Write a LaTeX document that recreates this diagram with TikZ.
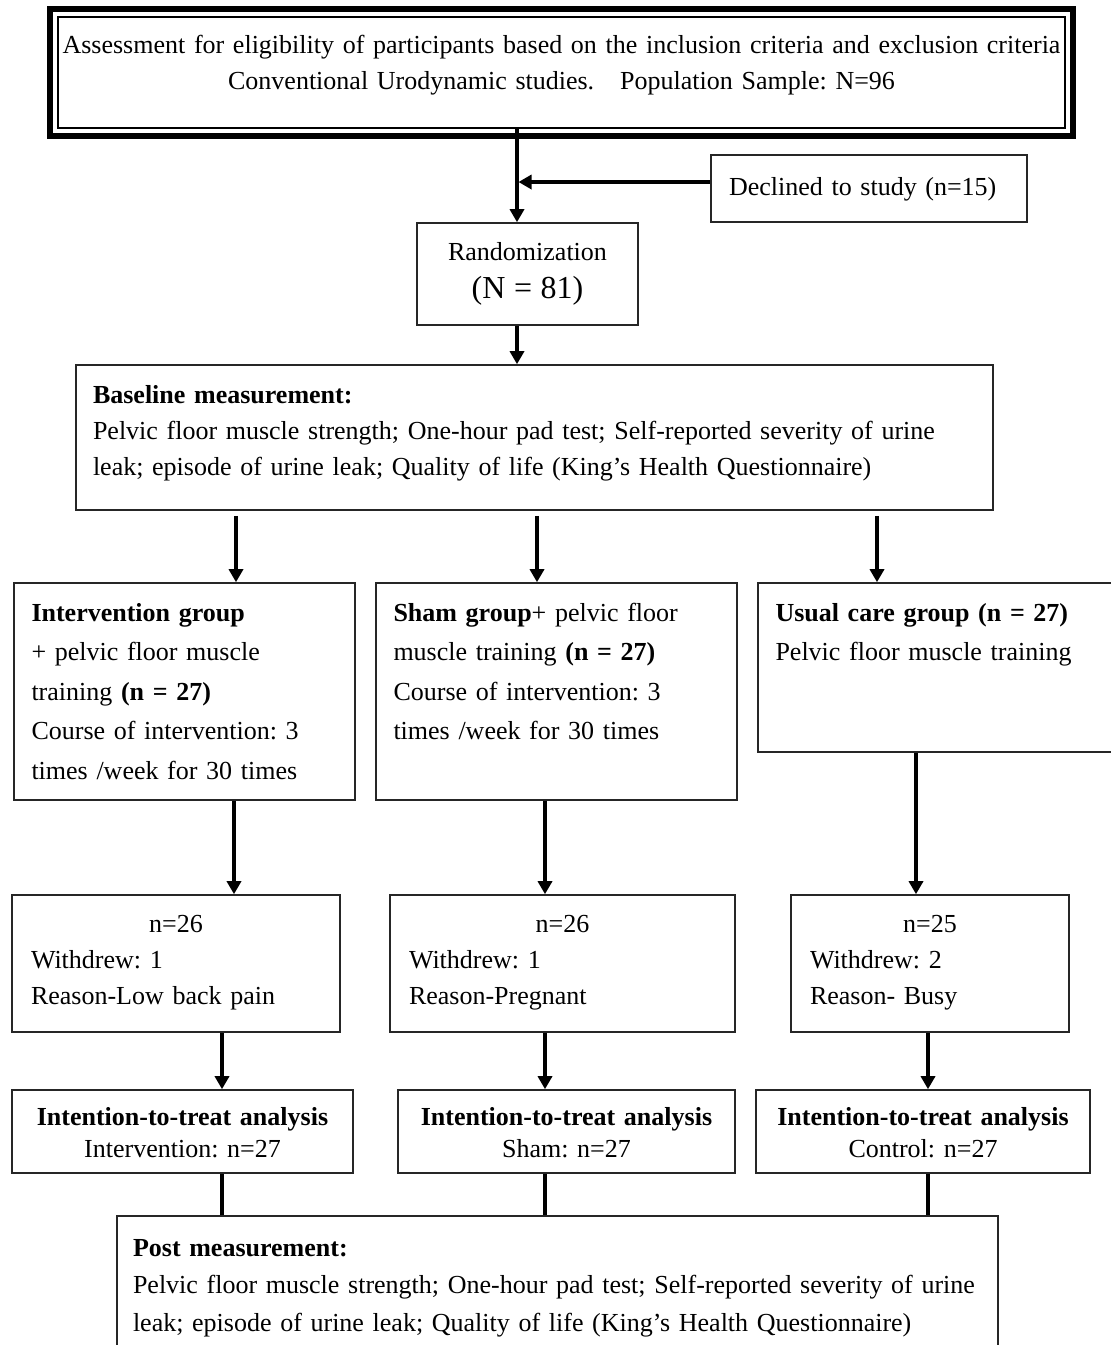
\documentclass[tikz,border=0pt]{standalone}
\usepackage{fontspec}
\setmainfont{Liberation Serif}
\usetikzlibrary{positioning,arrows.meta,calc}
\frenchspacing

\begin{document}
\begin{tikzpicture}[
    x=1pt, y=1pt,
    node distance=100pt,
    font=\fontsize{26pt}{36pt}\selectfont,
    box/.style={rectangle, draw=black!85, line width=1.6pt, inner ysep=0pt, align=left},
    screen/.style={box, align=center, inner xsep=3.5pt, text width=1000pt, text height=36pt, text depth=75pt},
    group/.style={box, inner xsep=17.5pt, text height=38pt, text depth=179pt, font=\fontsize{26pt}{39.5pt}\selectfont},
    count/.style={box, inner xsep=19pt, text height=37pt, text depth=100pt},
    itt/.style={box, align=center, inner xsep=8pt, text height=35pt, text depth=48pt},
    arrow/.style={-{Triangle[width=14pt,length=13pt]}, line width=3.5pt},
    link/.style={line width=3.5pt}
]
    \useasboundingbox (0,0) rectangle (1111,-1345);

    % Eligibility
    \node (assess) [screen, draw=black, line width=1.5pt] at (561.5,-72.5) {\mbox{Assessment for eligibility of participants based on the inclusion criteria and exclusion criteria}\\
    Conventional Urodynamic studies.\hspace{1em}Population Sample: N=96};
    \draw [line width=6pt] ([shift={(-7,7)}]assess.north west) rectangle ([shift={(7,-7)}]assess.south east);

    \node (declined) [box, below of=assess, xshift=307.5pt, yshift=-16pt, inner xsep=18pt, text width=280pt, text height=40pt, text depth=27pt] {Declined to study (n=15)};

    % Randomization
    \node (random) [box, align=center, below of=assess, xshift=-34pt, yshift=-101.5pt, inner xsep=10pt, text width=201pt, text height=37pt, text depth=65pt] {Randomization\\[2pt]
    {\fontsize{32pt}{38pt}\selectfont (N = 81)}};

    % Baseline
    \node (baseline) [box, below of=random, xshift=7pt, yshift=-63.5pt, inner xsep=17pt, text width=883pt, text height=38pt, text depth=107pt] {\textbf{Baseline measurement:}\\
    \mbox{Pelvic floor muscle strength; One-hour pad test; Self-reported severity of urine}\\
    leak; episode of urine leak; Quality of life (King’s Health Questionnaire)};

    % Groups
    \node (sham) [group, below of=baseline, xshift=22pt, yshift=-154pt, text width=326pt] {\textbf{Sham group}+ pelvic floor\\
    muscle training \textbf{(n = 27)}\\
    Course of intervention: 3\\
    times /week for 30 times};

    \node (interv) [group, left of=sham, xshift=-272pt, text width=306pt] {\textbf{Intervention group}\\
    + pelvic floor muscle\\
    training \textbf{(n = 27)}\\
    Course of intervention: 3\\
    times /week for 30 times};

    \node (usual) [group, right of=sham, xshift=282.5pt, yshift=24pt, text width=327pt, text depth=131pt] {\textbf{Usual care group (n = 27)}\\
    Pelvic floor muscle training};

    % Follow-up counts
    \node (n2) [count, below of=sham, xshift=6pt, yshift=-172pt, text width=307pt] {\makebox[\linewidth]{n=26}\\
    Withdrew: 1\\
    Reason-Pregnant};

    \node (n1) [count, left of=n2, xshift=-286.5pt, text width=290pt] {\makebox[\linewidth]{n=26}\\
    Withdrew: 1\\
    Reason-Low back pain};

    \node (n3) [count, right of=n2, xshift=267.5pt, text width=240pt] {\makebox[\linewidth]{n=25}\\
    Withdrew: 2\\
    Reason- Busy};

    % Analysis
    \node (itt2) [itt, below of=n2, xshift=4pt, yshift=-68pt, text width=321pt] {\textbf{Intention-to-treat analysis}\\[-4pt]
    Sham: n=27};

    \node (itt1) [itt, left of=itt2, xshift=-284pt, text width=325pt] {\textbf{Intention-to-treat analysis}\\[-4pt]
    Intervention: n=27};

    \node (itt3) [itt, right of=itt2, xshift=256.5pt, text width=318pt] {\textbf{Intention-to-treat analysis}\\[-4pt]
    Control: n=27};

    % Post
    \node (post) [box, below of=itt2, xshift=-9pt, yshift=-84.5pt, inner xsep=16pt, text width=849pt, text height=40pt, text depth=160pt, font=\fontsize{26pt}{37.5pt}\selectfont] {\textbf{Post measurement:}\\
    \mbox{Pelvic floor muscle strength; One-hour pad test; Self-reported severity of urine}\\
    leak; episode of urine leak; Quality of life (King’s Health Questionnaire)};

    % Arrow ends
    \coordinate (trunk) at ([xshift=-10.5pt]random.north);
    \coordinate (join) at ([yshift=6.5pt]declined.west -| trunk);
    \coordinate (in1) at ([xshift=51.5pt]interv.north);
    \coordinate (in2) at ([xshift=-19.5pt]sham.north);
    \coordinate (in3) at ([xshift=-62pt]usual.north);
    \coordinate (wd1) at ([xshift=58pt]n1.north);
    \coordinate (wd2) at ([xshift=-17.5pt]n2.north);
    \coordinate (wd3) at ([xshift=-14pt]n3.north);
    \coordinate (it1) at ([xshift=39.5pt]itt1.north);
    \coordinate (it2) at ([xshift=-21.5pt]itt2.north);
    \coordinate (it3) at ([xshift=5pt]itt3.north);

    % Flow arrows
    \draw [arrow] (assess.south -| trunk) -- (trunk);
    \draw [arrow, shorten >=1.5pt] ([yshift=6.5pt]declined.west) -- (join);
    \draw [arrow] (random.south -| trunk) -- (baseline.north -| trunk);

    \draw [arrow, shorten <=5pt] (baseline.south -| in1) -- (in1);
    \draw [arrow, shorten <=5pt] (baseline.south -| in2) -- (in2);
    \draw [arrow, shorten <=5pt] (baseline.south -| in3) -- (in3);

    \draw [arrow] (interv.south -| wd1) -- (wd1);
    \draw [arrow] (sham.south -| wd2) -- (wd2);
    \draw [arrow] (usual.south -| wd3) -- (wd3);

    \draw [arrow] (n1.south -| it1) -- (it1);
    \draw [arrow] (n2.south -| it2) -- (it2);
    \draw [arrow] (n3.south -| it3) -- (it3);

    \draw [link] (itt1.south -| it1) -- (post.north -| it1);
    \draw [link] (itt2.south -| it2) -- (post.north -| it2);
    \draw [link] (itt3.south -| it3) -- (post.north -| it3);

\end{tikzpicture}
\end{document}
